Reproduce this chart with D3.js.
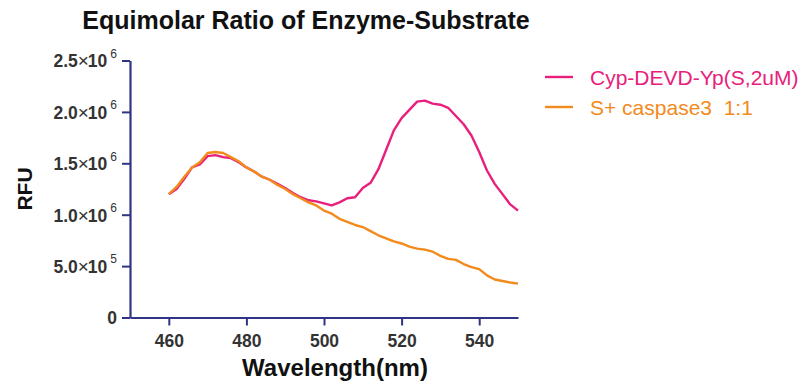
<!DOCTYPE html>
<html>
  <head>
    <script src="https://cdn.jsdelivr.net/npm/d3@7"></script>
    <style>
      body { margin: 0; background: #fff; }
      text { font-family: "Liberation Sans", Arial, sans-serif; }
    </style>
  </head>
  <body>
    <svg id="chart" width="805" height="381"></svg>
    <script>
      // wavelength (nm), every 2 nm
      var wavelength = d3.range(460, 551, 2);
      // RFU in units of 1e6
      var substrate = [1.20, 1.25, 1.35, 1.46, 1.49, 1.57, 1.58, 1.56, 1.55, 1.51,
        1.46, 1.42, 1.37, 1.34, 1.30, 1.26, 1.21, 1.17, 1.14, 1.13,
        1.11, 1.09, 1.12, 1.16, 1.17, 1.26, 1.31, 1.44, 1.63, 1.82,
        1.94, 2.02, 2.10, 2.11, 2.08, 2.07, 2.04, 1.96, 1.88, 1.77,
        1.61, 1.43, 1.30, 1.20, 1.10, 1.04];
      var withCaspase = [1.20, 1.27, 1.37, 1.46, 1.51, 1.60, 1.61, 1.60, 1.56, 1.52,
        1.46, 1.42, 1.37, 1.34, 1.29, 1.25, 1.20, 1.16, 1.12, 1.09,
        1.04, 1.01, 0.96, 0.93, 0.90, 0.88, 0.84, 0.80, 0.77, 0.74,
        0.72, 0.69, 0.67, 0.66, 0.64, 0.60, 0.57, 0.56, 0.52, 0.49,
        0.47, 0.41, 0.37, 0.355, 0.34, 0.33];
      var seriesNames = ["Cyp-DEVD-Yp(S,2uM)", "S+ caspase3\u00a0\u00a01:1"];
      var seriesColors = ["#e8207c", "#f28a1c"];
      var xTicks = [460, 480, 500, 520, 540];
      var yTicks = [0, 0.5e6, 1e6, 1.5e6, 2e6, 2.5e6];

      var svg = d3.select("#chart");
      var axisColor = "#2f3583", labelColor = "#333";

      var x = d3.scaleLinear().domain([450, 550]).range([130, 518]);
      var y = d3.scaleLinear().domain([0, 2.5e6]).range([317.5, 60.5]);

      // axes
      var gx = svg.append("g").attr("transform", "translate(0,317.5)")
        .call(d3.axisBottom(x).tickValues(xTicks).tickSize(8).tickPadding(8).tickSizeOuter(0));
      var gy = svg.append("g").attr("transform", "translate(130,0)")
        .call(d3.axisLeft(y).tickValues(yTicks).tickSize(8).tickPadding(4).tickSizeOuter(0).tickFormat(""));
      [gx, gy].forEach(function(g) {
        g.select(".domain").attr("stroke", axisColor).attr("stroke-width", 2.2);
        g.selectAll(".tick line").attr("stroke", axisColor).attr("stroke-width", 2);
      });
      gx.selectAll(".tick text").attr("fill", labelColor).attr("font-size", 17.5)
        .attr("font-weight", "bold").attr("dy", "0.75em");

      // y tick labels with scientific notation
      gy.selectAll(".tick").each(function(d) {
        var t = d3.select(this).select("text").attr("fill", labelColor)
          .attr("font-weight", "bold").attr("font-size", 17.5).attr("x", -13).attr("dy", "0.36em");
        if (d === 0) { t.text("0"); return; }
        var exp = Math.floor(Math.log10(d));
        var mant = (d / Math.pow(10, exp)).toFixed(1);
        t.append("tspan").text(mant);
        t.append("tspan").attr("font-size", 19).attr("font-weight", "normal").text("\u00d7");
        t.append("tspan").attr("dx", -1).text("10");
        t.append("tspan").attr("font-size", 12).attr("font-weight", "normal").attr("dy", "-0.8em").attr("dx", 3).text(exp);
      });

      // lines
      var line = d3.line().x(function(d) { return x(d[0]); }).y(function(d) { return y(d[1] * 1e6); });
      [substrate, withCaspase].forEach(function(vals, i) {
        svg.append("path")
          .datum(wavelength.map(function(w, j) { return [w, vals[j]]; }))
          .attr("fill", "none").attr("stroke", seriesColors[i]).attr("stroke-width", 2.4)
          .attr("stroke-linejoin", "round").attr("d", line);
      });

      // titles
      svg.append("text").attr("x", 306).attr("y", 29).attr("text-anchor", "middle")
        .attr("font-size", 25).attr("font-weight", "bold").attr("fill", "#111")
        .text("Equimolar Ratio of Enzyme-Substrate");
      svg.append("text").attr("x", 335).attr("y", 376).attr("text-anchor", "middle")
        .attr("font-size", 24).attr("font-weight", "bold").attr("fill", "#111")
        .text("Wavelength(nm)");
      svg.append("text").attr("transform", "translate(32,189) rotate(-90)").attr("text-anchor", "middle")
        .attr("font-size", 21).attr("font-weight", "bold").attr("fill", "#111")
        .text("RFU");

      // legend
      var leg = svg.append("g").selectAll("g").data(seriesNames).enter().append("g")
        .attr("transform", function(d, i) { return "translate(545," + (77 + i * 30) + ")"; });
      leg.append("line").attr("x1", 0).attr("x2", 28).attr("y1", 0).attr("y2", 0)
        .attr("stroke", function(d, i) { return seriesColors[i]; }).attr("stroke-width", 2.4);
      leg.append("text").attr("x", 45).attr("dy", "0.36em").attr("font-size", 21)
        .attr("fill", function(d, i) { return seriesColors[i]; }).text(function(d) { return d; });
    </script>
  </body>
</html>
